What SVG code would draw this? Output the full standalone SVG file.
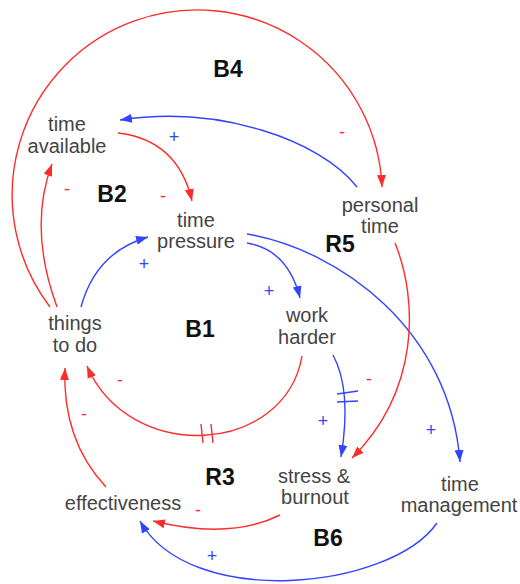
<svg xmlns="http://www.w3.org/2000/svg" width="520" height="584" viewBox="0 0 520 584">
<defs>
<style>
.n{font-family:"Liberation Sans",Arial,sans-serif;font-size:20px;fill:#444;text-anchor:middle}
.l{font-family:"Liberation Sans",Arial,sans-serif;font-size:23px;font-weight:bold;fill:#111;text-anchor:middle}
.r{fill:none;stroke:#ff2b2b;stroke-width:1.4}
.b{fill:none;stroke:#3344ff;stroke-width:1.4}
.sr{font-family:"Liberation Sans",Arial,sans-serif;font-size:18px;fill:#ff2b2b;text-anchor:middle}
.sb{font-family:"Liberation Sans",Arial,sans-serif;font-size:18px;fill:#3344ff;text-anchor:middle}
</style>
<marker id="ar" viewBox="0 0 12 9" refX="12" refY="4.5" markerWidth="12" markerHeight="9" markerUnits="userSpaceOnUse" orient="auto"><path d="M0,0 L12,4.5 L0,9 z" fill="#ff2b2b"/></marker>
<marker id="ab" viewBox="0 0 12 9" refX="12" refY="4.5" markerWidth="12" markerHeight="9" markerUnits="userSpaceOnUse" orient="auto"><path d="M0,0 L12,4.5 L0,9 z" fill="#3344ff"/></marker>
</defs>
<rect width="520" height="584" fill="#fff"/>
<g id="connectors">
<path class="r" d="M 50 307 A 185 185 0 1 1 382 187" marker-end="url(#ar)"/>
<path class="r" d="M 57 307 Q 28 228 52 164" marker-end="url(#ar)"/>
<path class="r" d="M 118 133 Q 178 140 192 201" marker-end="url(#ar)"/>
<path class="b" d="M 357 187 C 320 140 220 105 120 120" marker-end="url(#ab)"/>
<path class="b" d="M 81 307 Q 96 252 148 237" marker-end="url(#ab)"/>
<path class="b" d="M 247 243 Q 288 250 300 298" marker-end="url(#ab)"/>
<path class="b" d="M 247 234 C 340 250 450 330 460 462" marker-end="url(#ab)"/>
<path class="r" d="M 395 243 C 418 300 420 390 352 458" marker-end="url(#ar)"/>
<path class="b" d="M 333 355 Q 352 390 341 457" marker-end="url(#ab)"/>
<path class="b" d="M 337 394 L 358 391 M 337 402 L 358 401"/>
<path class="r" d="M 302 356 C 285 455 130 465 87 366" marker-end="url(#ar)"/>
<path class="r" d="M 201 424 L 203 443 M 211 424 L 213 443"/>
<path class="r" d="M 106 487 Q 62 440 65 368" marker-end="url(#ar)"/>
<path class="r" d="M 280 515 Q 230 540 153 521" marker-end="url(#ar)"/>
<path class="b" d="M 437 523 C 390 590 190 610 140 521" marker-end="url(#ab)"/>
</g>
<g id="polarities">
<text class="sr" x="67" y="195">-</text>
<text class="sr" x="163" y="202">-</text>
<text class="sr" x="342" y="138">-</text>
<text class="sb" x="174" y="143">+</text>
<text class="sb" x="144" y="270">+</text>
<text class="sb" x="269" y="297">+</text>
<text class="sb" x="431" y="436">+</text>
<text class="sr" x="369" y="385">-</text>
<text class="sb" x="323" y="427">+</text>
<text class="sr" x="120" y="386">-</text>
<text class="sr" x="84" y="420">-</text>
<text class="sr" x="198" y="516">-</text>
<text class="sb" x="212" y="562">+</text>
</g>
<g id="loops">
<text class="l" x="228" y="77">B4</text>
<text class="l" x="112" y="202">B2</text>
<text class="l" x="200" y="337">B1</text>
<text class="l" x="340" y="252">R5</text>
<text class="l" x="220" y="485">R3</text>
<text class="l" x="328" y="546">B6</text>
</g>
<g id="time-available"><text class="n" x="67" y="131">time</text><text class="n" x="67" y="153">available</text></g>
<g id="time-pressure"><text class="n" x="196" y="227">time</text><text class="n" x="196" y="248">pressure</text></g>
<g id="things-to-do"><text class="n" x="75" y="330">things</text><text class="n" x="75" y="352">to do</text></g>
<g id="work-harder"><text class="n" x="307" y="322">work</text><text class="n" x="307" y="344">harder</text></g>
<g id="personal-time"><text class="n" x="380" y="212">personal</text><text class="n" x="380" y="233">time</text></g>
<g id="stress-burnout"><text class="n" x="314" y="483">stress &amp;</text><text class="n" x="315" y="504">burnout</text></g>
<g id="time-management"><text class="n" x="460" y="491">time</text><text class="n" x="459" y="512">management</text></g>
<g id="effectiveness"><text class="n" x="123" y="510">effectiveness</text></g>
</svg>
